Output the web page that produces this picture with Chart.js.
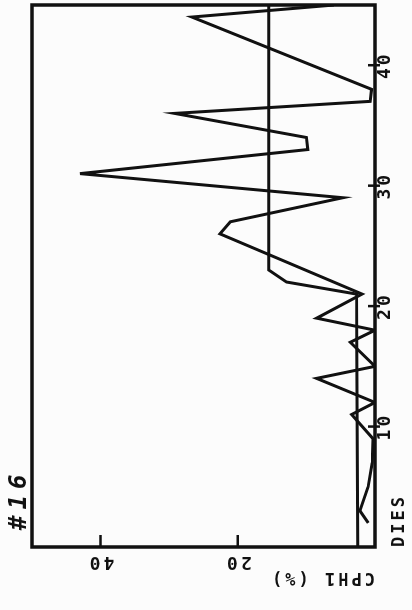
<!DOCTYPE html>
<html>
<head>
<meta charset="utf-8">
<script src="https://cdn.jsdelivr.net/npm/chart.js@4.4.1/dist/chart.umd.min.js"></script>
<style>
  html, body { margin: 0; padding: 0; background: #fcfcfc; overflow: hidden; }
  /* the scan is turned a quarter turn anticlockwise, so draw upright and rotate */
  #turn { position: absolute; left: 0; top: 0; width: 610px; height: 412px;
          transform-origin: 0 0; transform: translate(0, 610px) rotate(-90deg); }
</style>
</head>
<body>
<div id="turn"><canvas id="plot" width="610" height="412"></canvas></div>
<script>
// daily CPH1 readings (vertices of the trace)
const days = [2, 3, 5, 7, 9, 11, 12, 14, 15, 17, 18, 19, 21, 26, 27, 29, 31, 33, 34, 36, 37, 38, 44, 45];
const cph1 = [1.0, 2.2, 1.0, 0.4, 0.3, 3.4, 0.0, 8.5, 0.0, 3.6, 0.0, 8.5, 1.9, 22.6, 21.1, 4.7, 43.0, 9.8, 10.0, 29.2, 0.7, 0.5, 26.7, 6.0];
// reference level line
const meanDays = [0, 21, 22, 23, 45];
const meanCph1 = [2.5, 2.7, 12.9, 15.5, 15.5];

const dayTicks = [10, 20, 30, 40];
const cphTicks = [20, 40];
const plotTitle = '#16';
const xTitle = 'DIES';
const yTitle = 'CPH1 (%)';

const ink = '#111';
const mono = 'DejaVu Sans Mono';

const framePlugin = {
  id: 'frame',
  beforeDraw(chart) { chart.ctx.letterSpacing = '3px'; },
  afterDraw(chart) {
    const { ctx, chartArea: a, scales: { x, y } } = chart;
    ctx.save();
    ctx.strokeStyle = ink;
    ctx.lineWidth = 3.5;
    ctx.strokeRect(a.left, a.top, a.right - a.left, a.bottom - a.top);
    ctx.lineWidth = 2.5;
    ctx.beginPath();
    dayTicks.forEach(d => {
      const px = x.getPixelForValue(d);
      ctx.moveTo(px, a.bottom - 7);
      ctx.lineTo(px, a.bottom + 5);
    });
    cphTicks.forEach(v => {
      const py = y.getPixelForValue(v);
      ctx.moveTo(a.left, py);
      ctx.lineTo(a.left + 12, py);
    });
    ctx.stroke();
    ctx.font = `italic bold 24px ${mono}`;
    ctx.letterSpacing = '6px';
    ctx.fillStyle = ink;
    ctx.textBaseline = 'alphabetic';
    ctx.fillText(plotTitle, a.left + 17, 26);
    ctx.restore();
    ctx.letterSpacing = '0px';
  }
};

const tickFont = { family: mono, weight: 'bold', size: 18 };

new Chart(document.getElementById('plot'), {
  type: 'line',
  data: {
    datasets: [
      { data: days.map((d, i) => ({ x: d, y: cph1[i] })), borderColor: ink, borderWidth: 3 },
      { data: meanDays.map((d, i) => ({ x: d, y: meanCph1[i] })), borderColor: ink, borderWidth: 3 }
    ]
  },
  options: {
    responsive: false,
    animation: false,
    devicePixelRatio: 1,
    layout: { padding: { top: 32, right: 5, left: 0, bottom: 0 } },
    elements: { point: { radius: 0 }, line: { tension: 0 } },
    plugins: { legend: { display: false }, tooltip: { enabled: false } },
    scales: {
      x: {
        type: 'linear', min: 0, max: 45,
        grid: { display: false, drawTicks: false },
        border: { display: false },
        afterBuildTicks: s => { s.ticks = dayTicks.map(v => ({ value: v })); },
        afterFit: s => { s.height = 37; },
        ticks: { color: ink, font: tickFont, padding: 0, maxRotation: 0, autoSkip: false },
        title: { display: true, text: xTitle, align: 'start', color: ink,
                 font: { family: mono, weight: 'bold', size: 17 }, padding: { top: 0, bottom: 2 } }
      },
      y: {
        type: 'linear', min: 0, max: 50,
        grid: { display: false, drawTicks: false },
        border: { display: false },
        afterBuildTicks: s => { s.ticks = cphTicks.map(v => ({ value: v })); },
        afterFit: s => { s.width = 63; },
        ticks: { color: ink, font: tickFont, minRotation: 90, maxRotation: 90, crossAlign: 'center', padding: 4 },
        title: { display: true, text: yTitle, align: 'start', color: ink,
                 font: { family: mono, weight: 'bold', size: 17 }, padding: { top: 22, bottom: 0 } }
      }
    }
  },
  plugins: [framePlugin]
});
</script>
</body>
</html>
